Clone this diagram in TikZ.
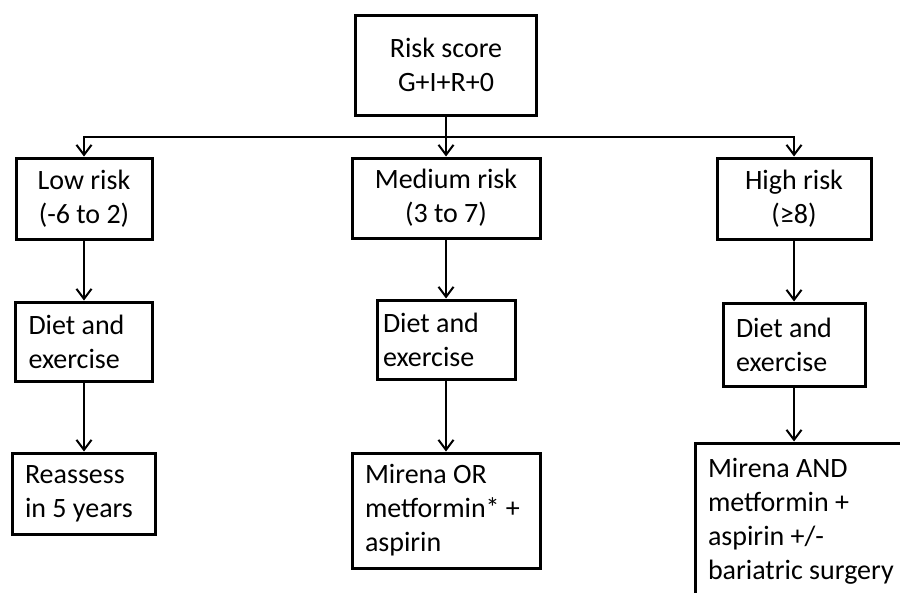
\documentclass[tikz,border=0pt]{standalone}
\usepackage{fontspec}
\setmainfont{Carlito}
\usetikzlibrary{arrows.meta}

\tikzset{
  riskbox/.style={draw, line width=3pt, inner sep=0pt, align=center,
    font=\fontsize{28}{34}\selectfont},
  stepbox/.style={riskbox, align=flush left, inner xsep=13pt, text width=#1},
  flow/.style={line width=2pt, -{Straight Barb[length=10pt,width=15pt,line width=2pt]}}
}

\begin{document}
\begin{tikzpicture}[x=1pt, y=-1pt]
  \useasboundingbox (0,0) rectangle (900,592);

  % score and risk groups
  \node[riskbox, minimum width=181pt, minimum height=100pt] (score) at (446,65) {Risk score\\G+I+R+0};
  \node[riskbox, minimum width=136pt, minimum height=81pt] (low) at (84,198.5) {Low risk\\(-6 to 2)};
  \node[riskbox, minimum width=188pt, minimum height=80pt] (med) at (446,198) {Medium risk\\(3 to 7)};
  \node[riskbox, minimum width=154pt, minimum height=81pt] (high) at (794,198.5) {High risk\\(≥8)};
  \coordinate (fork) at (446,137);

  % lifestyle
  \node[stepbox=111pt, minimum height=79pt] (dietL) at (84,341.5) {Diet and\\exercise};
  \node[stepbox=126pt, inner xsep=6pt, minimum height=79pt] (dietM) at (446,339.5) {Diet and\\exercise};
  \node[stepbox=116pt, minimum height=83pt] (dietH) at (794,344.5) {Diet and\\exercise};

  % treatment
  \node[stepbox=117pt, minimum height=81pt] (reL) at (83.5,493.5) {Reassess\\in 5 years};
  \node[stepbox=162pt, minimum height=115pt] (reM) at (446,510.5) {Mirena OR\\metformin* +\\aspirin};
  \node[stepbox=204pt, minimum height=156pt] (reH) at (810,521) {Mirena AND\\metformin +\\aspirin +/-\\bariatric surgery};

  \draw[line width=2pt] (score) -- (fork);
  \foreach \g in {low,med,high}
    \draw[flow] (fork) -| (\g.north);
  \foreach \a/\b in {low/dietL, med/dietM, high/dietH, dietL/reL, dietM/reM, dietH/reH}
    \draw[flow] (\a.south) -- (\a.south |- \b.north);
\end{tikzpicture}
\end{document}
